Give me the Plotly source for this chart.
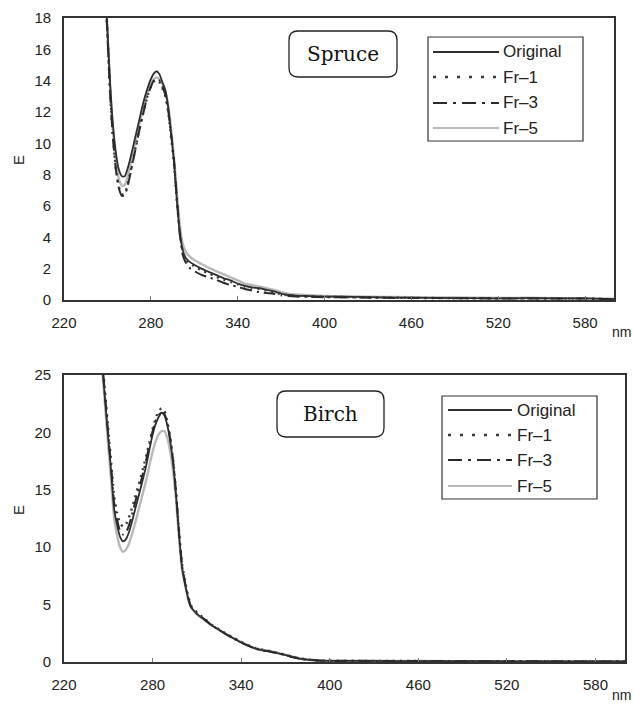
import plotly.graph_objects as go

# ---------------- data ----------------
series_names = ["Original", "Fr\u20131", "Fr\u20133", "Fr\u20135"]
x_tick_vals = [220, 280, 340, 400, 460, 520, 580]

spruce_nm = [248, 250, 252, 254, 256, 258, 260, 262, 264, 266, 268, 270, 272, 274, 276, 278, 280,
             282, 284, 286, 288, 290, 292, 294, 296, 298, 300, 302, 304, 306, 310, 315, 320, 325,
             330, 335, 340, 345, 350, 355, 360, 365, 370, 375, 380, 390, 400, 420, 440, 460, 480,
             500, 520, 540, 560, 580, 600]
spruce_original = [21.0, 17.3, 13.6, 11.0, 9.3, 8.3, 7.9, 7.9, 8.4, 9.1, 9.9, 10.7, 11.5, 12.3, 13.0,
                   13.6, 14.1, 14.45, 14.6, 14.4, 13.9, 13.4, 12.3, 10.6, 8.8, 6.3, 4.3, 3.2, 2.7, 2.5,
                   2.25, 2.0, 1.8, 1.6, 1.4, 1.25, 1.05, 0.9, 0.8, 0.75, 0.65, 0.55, 0.4, 0.32, 0.28,
                   0.25, 0.22, 0.2, 0.16, 0.15, 0.13, 0.12, 0.1, 0.12, 0.1, 0.1, 0.05]
spruce_fr1 = [21.0, 17.0, 13.0, 10.2, 8.3, 7.2, 6.75, 6.8, 7.4, 8.2, 9.1, 10.0, 10.9, 11.7, 12.4,
              13.1, 13.6, 13.95, 14.05, 13.9, 13.5, 13.0, 12.0, 10.4, 8.7, 6.3, 4.3, 3.1, 2.6, 2.4,
              2.15, 1.9, 1.7, 1.5, 1.3, 1.15, 1.0, 0.85, 0.75, 0.7, 0.6, 0.5, 0.38, 0.3, 0.26,
              0.23, 0.2, 0.18, 0.15, 0.14, 0.12, 0.11, 0.1, 0.11, 0.1, 0.09, 0.05]
spruce_fr3 = [21.0, 16.9, 12.9, 10.1, 8.2, 7.1, 6.65, 6.7, 7.3, 8.1, 9.0, 9.9, 10.8, 11.6, 12.4,
              13.1, 13.6, 14.0, 14.1, 14.0, 13.6, 13.1, 12.1, 10.6, 8.9, 6.5, 4.2, 2.9, 2.4, 2.1,
              1.85, 1.6, 1.45, 1.3, 1.1, 0.95, 0.85, 0.7, 0.6, 0.5, 0.45, 0.4, 0.3, 0.25, 0.22,
              0.2, 0.18, 0.16, 0.14, 0.13, 0.12, 0.11, 0.1, 0.1, 0.1, 0.09, 0.05]
spruce_fr5 = [21.0, 17.2, 13.4, 10.6, 8.8, 7.7, 7.3, 7.35, 7.9, 8.7, 9.6, 10.4, 11.2, 12.0, 12.7,
              13.3, 13.8, 14.1, 14.2, 14.1, 13.8, 13.3, 12.4, 10.9, 9.1, 6.8, 4.8, 3.6, 3.1, 2.85,
              2.55, 2.3, 2.05, 1.85, 1.65, 1.45, 1.25, 1.05, 0.95, 0.85, 0.75, 0.65, 0.5, 0.4, 0.35,
              0.3, 0.26, 0.23, 0.2, 0.18, 0.16, 0.15, 0.13, 0.14, 0.12, 0.12, 0.08]

birch_nm = [244, 246, 248, 250, 252, 254, 256, 258, 260, 262, 264, 266, 268, 270, 272, 274, 276, 278,
            280, 282, 284, 286, 288, 290, 292, 294, 296, 298, 300, 302, 304, 306, 310, 315, 320, 325,
            330, 335, 340, 345, 350, 355, 360, 365, 370, 375, 380, 390, 400, 420, 440, 460, 480, 500,
            520, 540, 560, 580, 600]
birch_original = [29.0, 25.8, 22.6, 19.5, 16.5, 13.3, 11.9, 10.9, 10.5, 10.7, 11.3, 12.2, 13.2, 14.2,
                  15.2, 16.2, 17.3, 18.6, 19.8, 20.7, 21.3, 21.7, 21.5, 20.6, 19.2, 17.2, 14.4, 11.0,
                  8.2, 6.8, 5.6, 4.8, 4.2, 3.7, 3.2, 2.8, 2.4, 2.05, 1.7, 1.4, 1.15, 1.0, 0.9, 0.75,
                  0.6, 0.42, 0.28, 0.15, 0.1, 0.1, 0.08, 0.08, 0.07, 0.07, 0.06, 0.06, 0.05, 0.05, 0.05]
birch_fr1 = [29.5, 26.3, 23.2, 20.2, 17.3, 14.4, 13.0, 12.1, 11.8, 12.0, 12.6, 13.4, 14.3, 15.2,
             16.1, 17.1, 18.1, 19.2, 20.3, 21.2, 21.8, 22.1, 21.9, 20.9, 19.5, 17.5, 14.7, 11.3,
             8.5, 7.0, 5.8, 4.95, 4.3, 3.8, 3.25, 2.85, 2.45, 2.1, 1.75, 1.45, 1.2, 1.05, 0.92, 0.78,
             0.62, 0.44, 0.3, 0.16, 0.11, 0.1, 0.09, 0.08, 0.08, 0.07, 0.07, 0.06, 0.06, 0.05, 0.05]
birch_fr3 = [29.2, 26.0, 22.9, 19.8, 16.9, 13.8, 12.4, 11.4, 11.1, 11.3, 11.9, 12.8, 13.8, 14.8,
             15.7, 16.7, 17.8, 19.0, 20.1, 21.0, 21.5, 21.7, 21.6, 20.8, 19.4, 17.4, 14.6, 11.2,
             8.4, 6.9, 5.7, 4.85, 4.25, 3.75, 3.2, 2.8, 2.4, 2.05, 1.7, 1.4, 1.15, 1.0, 0.9, 0.75,
             0.6, 0.42, 0.28, 0.15, 0.1, 0.1, 0.08, 0.08, 0.07, 0.07, 0.06, 0.06, 0.05, 0.05, 0.05]
birch_fr5 = [28.5, 25.3, 22.0, 18.8, 15.7, 12.5, 11.0, 10.0, 9.6, 9.8, 10.3, 11.1, 12.0, 13.0,
             14.0, 15.0, 16.0, 17.2, 18.3, 19.2, 19.8, 20.1, 20.1, 19.5, 18.3, 16.5, 13.9, 10.7,
             8.0, 6.7, 5.5, 4.75, 4.15, 3.65, 3.2, 2.8, 2.4, 2.05, 1.75, 1.45, 1.2, 1.05, 0.95, 0.8,
             0.65, 0.47, 0.32, 0.18, 0.12, 0.11, 0.1, 0.09, 0.08, 0.08, 0.07, 0.07, 0.06, 0.06, 0.05]

# ---------------- styles ----------------
W, H = 634, 704
FONT = "Arial, Liberation Sans, sans-serif"
SERIF = "DejaVu Serif, serif"
styles = {
    "Original": dict(color="#2e2e2e", width=1.8, dash="solid"),
    "Fr\u20131": dict(color="#3a3a3a", width=2.4, dash="2px,5px"),
    "Fr\u20133": dict(color="#2a2a2a", width=2.0, dash="12px,5px,2px,5px"),
    "Fr\u20135": dict(color="#b9b9b9", width=2.4, dash="solid"),
}
legend_dash = {
    "Original": "solid",
    "Fr\u20131": "3px,9px",
    "Fr\u20133": "14px,6px,3px,6px",
    "Fr\u20135": "solid",
}


def px(x):
    return x / W


def py(y):
    return 1 - y / H


fig = go.Figure()

panels = [
    ("x", "y", spruce_nm, [spruce_original, spruce_fr1, spruce_fr3, spruce_fr5]),
    ("x2", "y2", birch_nm, [birch_original, birch_fr1, birch_fr3, birch_fr5]),
]
draw_order = [3, 0, 1, 2]
for xa, ya, nm, vals in panels:
    for i in draw_order:
        name = series_names[i]
        st = styles[name]
        fig.add_trace(go.Scatter(
            x=nm, y=vals[i], mode="lines", name=name, showlegend=False,
            xaxis=xa, yaxis=ya,
            line=dict(color=st["color"], width=st["width"], dash=st["dash"], shape="spline",
                      smoothing=0.6),
        ))

axis_common = dict(
    showgrid=False, zeroline=False, showline=True, linecolor="#333", linewidth=1.6,
    mirror=True, automargin=False, tickfont=dict(family=FONT, size=15, color="#222"),
)
ytick = dict(ticks="outside", ticklen=8, tickcolor="rgba(0,0,0,0)")
xtick = dict(ticks="inside", ticklen=4, tickcolor="#777", ticklabelstandoff=8)

fig.update_layout(
    width=W, height=H, margin=dict(l=0, r=0, t=0, b=0),
    paper_bgcolor="white", plot_bgcolor="white",
    font=dict(family=FONT, size=14, color="#222"),
    xaxis=dict(domain=[px(64), px(614)], range=[220, 600], anchor="y",
               tickvals=x_tick_vals, **xtick, **axis_common),
    yaxis=dict(domain=[py(300), py(18)], range=[0, 18], anchor="x", dtick=2,
               **ytick, **axis_common),
    xaxis2=dict(domain=[px(64), px(625)], range=[220, 600], anchor="y2",
                tickvals=x_tick_vals, **xtick, **axis_common),
    yaxis2=dict(domain=[py(662), py(375)], range=[0, 25], anchor="x2", dtick=5,
                **ytick, **axis_common),
)

shapes = []
annotations = []


def label(x, y, text, size, family=FONT, xanchor="center", angle=0, color="#222"):
    return dict(x=px(x), y=py(y), xref="paper", yref="paper", text=text, showarrow=False,
                xanchor=xanchor, yanchor="middle", textangle=angle,
                font=dict(family=family, size=size, color=color))


# y titles "E" and "nm" labels
for ycen in (160, 510):
    annotations.append(label(18, ycen, "E", 15, angle=-90))
for (xx, yy) in ((621, 332), (621, 695)):
    annotations.append(label(xx, yy, "nm", 14))


def rounded_box(x0, y0, x1, y1, r=9):
    rx, ry = r / W, r / H
    X0, X1 = px(x0), px(x1)
    Y0, Y1 = py(y0), py(y1)  # Y0 top (greater), Y1 bottom
    path = (f"M {X0+rx},{Y0} L {X1-rx},{Y0} Q {X1},{Y0} {X1},{Y0-ry} "
            f"L {X1},{Y1+ry} Q {X1},{Y1} {X1-rx},{Y1} L {X0+rx},{Y1} "
            f"Q {X0},{Y1} {X0},{Y1+ry} L {X0},{Y0-ry} Q {X0},{Y0} {X0+rx},{Y0} Z")
    return dict(type="path", xref="paper", yref="paper", path=path,
                line=dict(color="#222", width=1.3), fillcolor="white", layer="above")


# species label boxes
for (bx0, by0, bx1, by1, text) in ((289, 31, 397, 77, "Spruce"), (277, 391, 384, 437, "Birch")):
    shapes.append(rounded_box(bx0, by0, bx1, by1))
    annotations.append(label((bx0 + bx1) / 2, (by0 + by1) / 2, text, 20, family=SERIF, color="#111"))

# legend boxes
legends = [
    dict(box=(428, 37, 583, 141), lx=(433, 499), tx=501, ys=[52, 77, 103, 128]),
    dict(box=(442, 396, 597, 499), lx=(448, 512), tx=515, ys=[410, 435, 460, 486]),
]
for lg in legends:
    x0, y0, x1, y1 = lg["box"]
    shapes.append(dict(type="rect", xref="paper", yref="paper", x0=px(x0), x1=px(x1),
                       y0=py(y1), y1=py(y0), line=dict(color="#333", width=1.2),
                       fillcolor="white", layer="above"))
    for name, yy in zip(series_names, lg["ys"]):
        st = styles[name]
        shapes.append(dict(type="line", xref="paper", yref="paper",
                           x0=px(lg["lx"][0]), x1=px(lg["lx"][1]), y0=py(yy), y1=py(yy),
                           line=dict(color=st["color"], width=2.2 if name != "Fr\u20131" else 2.6,
                                     dash=legend_dash[name]), layer="above"))
        annotations.append(label(lg["tx"], yy, name, 17, xanchor="left"))

fig.update_layout(shapes=shapes, annotations=annotations)

fig.write_html("out.html")
